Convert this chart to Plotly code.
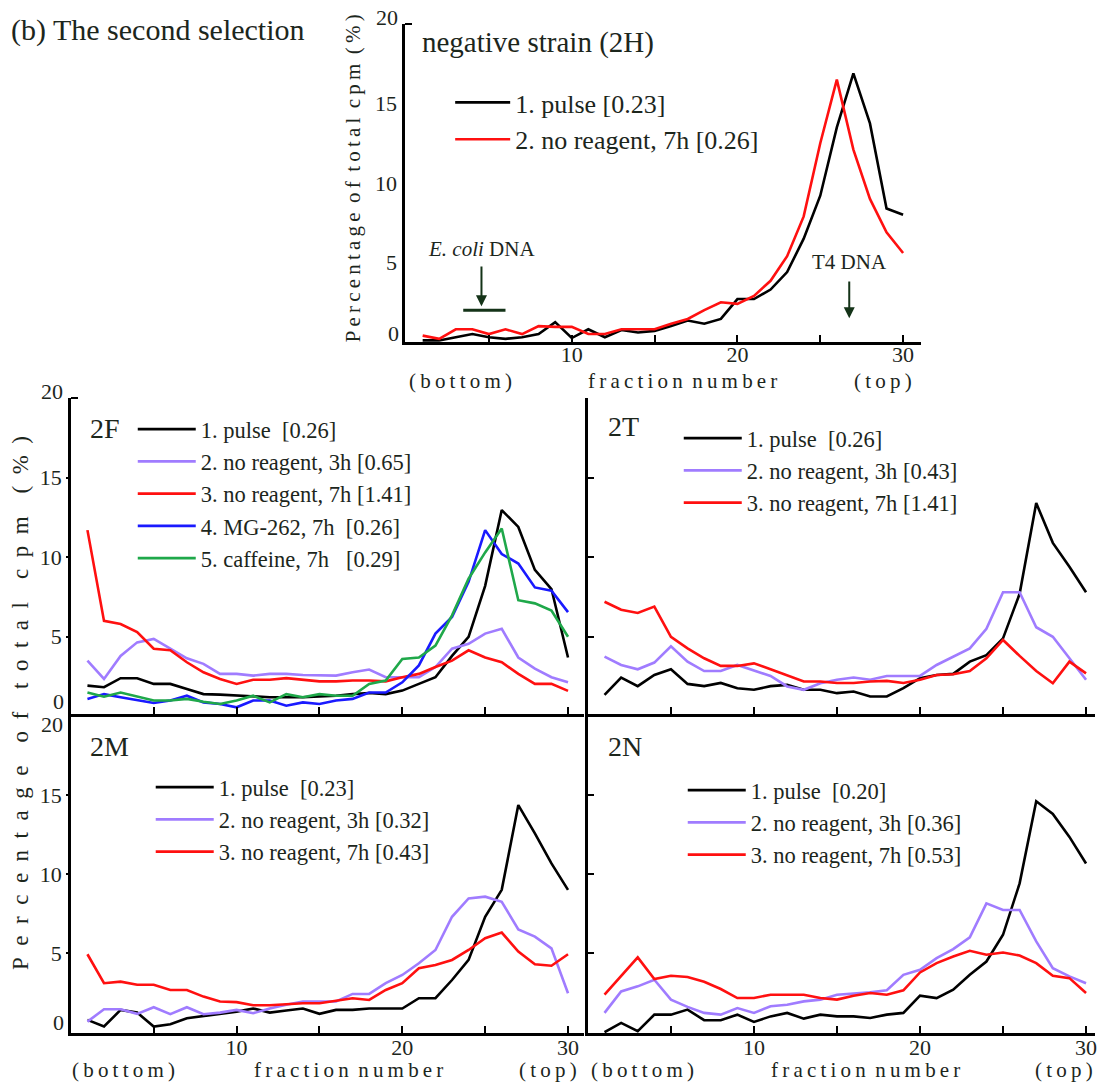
import plotly.graph_objects as go

# ---------------- data ----------------
fractions = list(range(1, 31))

# negative strain (2H)
h_pulse = [0.1, 0.1, 0.3, 0.5, 0.3, 0.2, 0.3, 0.5, 1.25, 0.25, 0.8, 0.3, 0.75, 0.6, 0.7,
           1.0, 1.35, 1.15, 1.45, 2.7, 2.7, 3.3, 4.4, 6.5, 9.2, 13.5, 16.9, 13.75, 8.4, 8.0]
h_noreag_7h = [0.4, 0.2, 0.8, 0.8, 0.5, 0.8, 0.5, 1.0, 0.95, 0.95, 0.5, 0.5, 0.8, 0.8, 0.8,
               1.15, 1.45, 2.0, 2.5, 2.4, 2.9, 3.85, 5.4, 7.9, 12.5, 16.5, 12.1, 9.0, 6.9, 5.6]

# 2F
f_pulse = [1.93, 1.83, 2.4, 2.4, 2.04, 2.04, 1.72, 1.4, 1.37, 1.3, 1.26, 1.2, 1.2, 1.2, 1.26,
           1.3, 1.4, 1.47, 1.4, 1.62, 2.04, 2.46, 3.8, 5.0, 8.2, 12.96, 11.9, 9.2, 8.0, 3.7]
f_noreag_3h = [3.5, 2.35, 3.8, 4.65, 4.87, 4.25, 3.65, 3.3, 2.67, 2.67, 2.56, 2.67, 2.67, 2.6, 2.56,
               2.56, 2.77, 2.94, 2.46, 2.46, 2.46, 3.1, 4.25, 4.56, 5.2, 5.5, 3.7, 3.0, 2.46, 2.14]
f_noreag_7h = [11.7, 6.0, 5.8, 5.3, 4.25, 4.15, 3.4, 2.77, 2.35, 2.04, 2.3, 2.3, 2.4, 2.3, 2.2,
               2.2, 2.25, 2.25, 2.2, 2.46, 2.67, 3.1, 3.5, 4.15, 3.7, 3.4, 2.67, 2.04, 2.04, 1.6]
f_mg262 = [1.1, 1.4, 1.2, 1.0, 0.84, 1.0, 1.3, 0.88, 0.78, 0.57, 1.0, 1.0, 0.67, 0.88, 0.78,
           1.0, 1.1, 1.5, 1.5, 2.14, 3.2, 5.2, 6.25, 8.45, 11.7, 10.2, 9.6, 8.1, 7.9, 6.55]
f_caffeine = [1.5, 1.24, 1.5, 1.24, 1.0, 1.0, 1.1, 0.92, 0.78, 1.0, 1.3, 0.88, 1.4, 1.2, 1.4,
              1.3, 1.3, 2.04, 2.25, 3.6, 3.7, 4.45, 6.35, 8.65, 10.3, 11.8, 7.3, 7.1, 6.65, 5.0]

# 2T
t_pulse = [1.35, 2.44, 1.9, 2.6, 2.96, 2.04, 1.9, 2.1, 1.77, 1.67, 1.9, 1.98, 1.67, 1.67, 1.46,
           1.56, 1.25, 1.25, 1.77, 2.4, 2.6, 2.67, 3.44, 3.85, 4.9, 7.7, 13.4, 10.9, 9.4, 7.8]
t_noreag_3h = [3.75, 3.23, 2.96, 3.38, 4.4, 3.44, 2.85, 2.85, 3.23, 2.9, 2.54, 1.88, 1.67, 2.08, 2.3,
               2.44, 2.3, 2.54, 2.54, 2.54, 3.23, 3.75, 4.27, 5.5, 7.8, 7.8, 5.6, 5.0, 3.65, 2.3]
t_noreag_7h = [7.2, 6.7, 6.5, 6.9, 5.0, 4.27, 3.65, 3.17, 3.17, 3.33, 2.96, 2.6, 2.19, 2.19, 2.1,
               2.1, 2.19, 2.23, 2.1, 2.3, 2.6, 2.65, 2.85, 3.65, 4.8, 3.8, 2.85, 2.08, 3.44, 2.7]

# 2M
m_pulse = [0.78, 0.36, 1.41, 1.24, 0.36, 0.5, 0.88, 1.03, 1.16, 1.3, 1.5, 1.24, 1.37, 1.5, 1.16,
           1.41, 1.41, 1.5, 1.5, 1.5, 2.15, 2.15, 3.3, 4.57, 7.3, 9.0, 14.36, 12.57, 10.67, 9.0]
m_noreag_3h = [0.67, 1.45, 1.45, 1.16, 1.58, 1.14, 1.58, 1.14, 1.24, 1.41, 1.2, 1.5, 1.73, 1.94, 1.94,
               1.94, 2.42, 2.42, 3.1, 3.62, 4.36, 5.2, 7.3, 8.46, 8.57, 8.25, 6.5, 6.04, 5.3, 2.46]
m_noreag_7h = [4.93, 3.1, 3.2, 3.0, 3.0, 2.67, 2.67, 2.25, 1.94, 1.9, 1.7, 1.7, 1.77, 1.83, 1.83,
               2.0, 2.15, 2.04, 2.67, 3.1, 4.04, 4.25, 4.57, 5.2, 5.94, 6.3, 5.1, 4.3, 4.2, 4.93]

# 2N
n_pulse = [0.0, 0.59, 0.06, 1.11, 1.11, 1.43, 0.76, 0.76, 1.11, 0.65, 1.0, 1.22, 0.86, 1.11, 1.0,
           1.0, 0.9, 1.11, 1.22, 2.31, 2.16, 2.69, 3.63, 4.47, 6.16, 9.41, 14.6, 13.8, 12.35, 10.67]
n_noreag_3h = [1.22, 2.58, 2.9, 3.32, 2.06, 1.6, 1.22, 1.11, 1.53, 1.22, 1.64, 1.74, 1.95, 2.06, 2.37,
               2.44, 2.52, 2.65, 3.63, 3.95, 4.68, 5.25, 6.0, 8.15, 7.73, 7.73, 5.74, 4.05, 3.53, 3.1]
n_noreag_7h = [2.37, 3.57, 4.73, 3.36, 3.57, 3.49, 3.19, 2.73, 2.16, 2.16, 2.37, 2.37, 2.37, 2.16, 2.06,
               2.31, 2.48, 2.37, 2.65, 3.78, 4.37, 4.79, 5.15, 4.9, 5.04, 4.85, 4.37, 3.57, 3.42, 2.48]

# legend labels
h_names = ["1. pulse [0.23]", "2. no reagent, 7h [0.26]"]
f_names = ["1. pulse  [0.26]", "2. no reagent, 3h [0.65]", "3. no reagent, 7h [1.41]",
           "4. MG-262, 7h  [0.26]", "5. caffeine, 7h   [0.29]"]
t_names = ["1. pulse  [0.26]", "2. no reagent, 3h [0.43]", "3. no reagent, 7h [1.41]"]
m_names = ["1. pulse  [0.23]", "2. no reagent, 3h [0.32]", "3. no reagent, 7h [0.43]"]
n_names = ["1. pulse  [0.20]", "2. no reagent, 3h [0.36]", "3. no reagent, 7h [0.53]"]

# marker positions (fraction number, % level)
ecoli_band = [3.45, 6.0]
ecoli_band_level = 2.0
ecoli_arrow = dict(x=4.55, tip=2.25, tail=4.85)
t4_arrow = dict(x=26.75, tip=1.5, tail=3.9)

x_tickvals = [5, 10, 15, 20, 25, 30]
x_ticktext = ["", "10", "", "20", "", "30"]

# ---------------- style ----------------
W, H = 1097, 1082
SERIF = "Liberation Serif"
TXT = "#1c261c"
ARROWC = "#143318"
BLACK = "#000000"
PURPLE = "#a07cff"
RED = "#ff1010"
BLUE = "#1a1aff"
GREEN = "#1fa84a"


def px(xp):
    return xp / W


def py(yp):
    return 1 - yp / H


fig = go.Figure()


def add(xa, ya, ys, names, colors, leg):
    for y, n, c in zip(ys, names, colors):
        fig.add_trace(go.Scatter(x=fractions, y=y, mode="lines", name=n,
                                 line=dict(color=c, width=2.6),
                                 xaxis=xa, yaxis=ya, legend=leg, hoverinfo="skip"))


add("x", "y", [h_pulse, h_noreag_7h], h_names, [BLACK, RED], "legend")
add("x2", "y2", [f_pulse, f_noreag_3h, f_noreag_7h, f_mg262, f_caffeine], f_names,
    [BLACK, PURPLE, RED, BLUE, GREEN], "legend2")
add("x3", "y3", [t_pulse, t_noreag_3h, t_noreag_7h], t_names, [BLACK, PURPLE, RED], "legend3")
add("x4", "y4", [m_pulse, m_noreag_3h, m_noreag_7h], m_names, [BLACK, PURPLE, RED], "legend4")
add("x5", "y5", [n_pulse, n_noreag_3h, n_noreag_7h], n_names, [BLACK, PURPLE, RED], "legend5")

tickfont = dict(family=SERIF, size=22, color=TXT)


def xaxis(domain, rng, labels, anchor, standoff):
    return dict(domain=domain, range=rng, anchor=anchor, showline=True, linecolor=BLACK,
                linewidth=2.5, showgrid=False, zeroline=False, ticks="inside", ticklen=7,
                tickwidth=2, tickcolor=BLACK, tickmode="array", tickvals=x_tickvals,
                ticktext=x_ticktext, showticklabels=labels, tickfont=tickfont,
                ticklabelstandoff=standoff, ticklabeloverflow="allow")


def yaxis(domain, rng, anchor, labels, ticks, ticklen=6, standoff=0):
    d = dict(domain=domain, range=rng, anchor=anchor, showline=True, linecolor=BLACK,
             linewidth=2.5, showgrid=False, zeroline=False, tickmode="array",
             tickvals=[5, 10, 15], ticktext=["5", "10", "15"], showticklabels=labels,
             ticks=ticks, ticklen=ticklen, tickwidth=2, tickcolor=BLACK, tickfont=tickfont,
             ticklabelstandoff=standoff,
             minor=dict(tickmode="array", tickvals=[20], ticks="inside", ticklen=7,
                        tickwidth=2, tickcolor=BLACK))
    if not labels:
        d["tickvals"] = [5, 10, 15, 20]
    return d


top_x = [px(406), px(923)]
top_y = [py(342), py(24)]
left_x = [px(71), px(585)]
right_x = [px(589), 1.0]
row1_y = [py(714), py(398)]
row2_y = [py(1033), py(714)]

legend_common = dict(xanchor="left", yanchor="top", bgcolor="rgba(0,0,0,0)",
                     borderwidth=0, tracegroupgap=0, traceorder="normal")
lfont = dict(family=SERIF, size=22.5, color=TXT)

fig.update_layout(
    width=W, height=H, margin=dict(l=0, r=0, t=0, b=0),
    paper_bgcolor="white", plot_bgcolor="rgba(0,0,0,0)",
    showlegend=True,
    xaxis=xaxis(top_x, [-0.05, 31.1], True, "y", -9),
    yaxis=yaxis(top_y, [0, 20], "x", True, "outside", ticklen=1),
    xaxis2=xaxis(left_x, [0, 30.96], False, "y2", 0),
    yaxis2=yaxis(row1_y, [0.15, 20], "x2", True, "outside", ticklen=2),
    xaxis3=xaxis(right_x, [0, 30.54], False, "y3", 0),
    yaxis3=yaxis(row1_y, [0.15, 20], "x3", False, "inside"),
    xaxis4=xaxis(left_x, [0, 30.96], True, "y4", -7),
    yaxis4=yaxis(row2_y, [-0.05, 20.12], "x4", True, "outside", ticklen=2),
    xaxis5=xaxis(right_x, [0, 30.54], True, "y5", -7),
    yaxis5=yaxis(row2_y, [-0.05, 20.12], "x5", False, "inside"),
    legend=dict(x=px(451), y=py(79), itemwidth=55,
                font=dict(family=SERIF, size=26, color=TXT), **legend_common),
    legend2=dict(x=px(133), y=py(408), itemwidth=58, font=lfont, **legend_common),
    legend3=dict(x=px(680), y=py(417), itemwidth=58, font=lfont, **legend_common),
    legend4=dict(x=px(151), y=py(766), itemwidth=58, font=lfont, **legend_common),
    legend5=dict(x=px(684), y=py(769), itemwidth=58, font=lfont, **legend_common),
)

ann = []


def text(t, x, y, size, xanchor="left", angle=0):
    ann.append(dict(text=t, x=px(x), y=py(y), xref="paper", yref="paper", xanchor=xanchor,
                    yanchor="middle", showarrow=False, textangle=angle,
                    font=dict(family=SERIF, size=size, color=TXT)))


TH = "\u2009"
EN = "\u2002"
EM = "\u2003"


def spaced(s, gap, wgap):
    words = s.split(" ")
    return wgap.join(gap.join(list(w)) for w in words)


text("(b) The second selection", 9, 30, 30)
text("negative strain (2H)", 421, 43, 29)
text(spaced("Percentage of total cpm (%)", TH, " " + TH), 354, 178, 21, "center", -90)
text(spaced("Percentage of total cpm (%)", EN, EM), 20, 703, 23, "center", -90)

for (cb, cf, ct, yy) in [(461, 684, 885, 381), (124, 349, 549, 1070), (644, 867, 1066, 1070)]:
    text(spaced("(bottom)", TH, TH), cb, yy, 21, "center")
    text(spaced("fraction number", TH, " " + TH), cf, yy, 21, "center")
    text(spaced("(top)", TH, TH), ct, yy, 21, "center")

text("2F", 88, 428, 28)
text("2T", 607, 426, 28)
text("2M", 88, 746, 28)
text("2N", 607, 746, 28)

# y tick labels for 0 and 20 (offset like the original)
for (xr, y0p, y20p) in [(402, 333, 18), (66, 701, 392), (66, 1022, 724)]:
    text("0", xr, y0p, 22, "right")
    text("20", xr - 1, y20p, 22, "right")

# DNA markers in the top panel
ann.append(dict(text="<i>E. coli</i> DNA", x=ecoli_arrow["x"], y=ecoli_arrow["tail"], xref="x", yref="y",
                yanchor="bottom", xanchor="center", showarrow=False, yshift=2,
                font=dict(family=SERIF, size=21, color=TXT)))
ann.append(dict(text="", x=ecoli_arrow["x"], y=ecoli_arrow["tip"], ax=ecoli_arrow["x"],
                ay=ecoli_arrow["tail"], xref="x", yref="y", axref="x", ayref="y",
                showarrow=True, arrowhead=2, arrowsize=1.1, arrowwidth=2, arrowcolor=ARROWC))
ann.append(dict(text="T4 DNA", x=t4_arrow["x"], y=t4_arrow["tail"], xref="x", yref="y",
                yanchor="bottom", xanchor="center", showarrow=False, yshift=4,
                font=dict(family=SERIF, size=21, color=TXT)))
ann.append(dict(text="", x=t4_arrow["x"], y=t4_arrow["tip"], ax=t4_arrow["x"],
                ay=t4_arrow["tail"], xref="x", yref="y", axref="x", ayref="y",
                showarrow=True, arrowhead=2, arrowsize=1.1, arrowwidth=2, arrowcolor=ARROWC))

fig.update_layout(annotations=ann)
fig.add_shape(type="line", xref="x", yref="y", x0=ecoli_band[0], x1=ecoli_band[1],
              y0=ecoli_band_level, y1=ecoli_band_level, line=dict(color=ARROWC, width=3))

fig.write_html("out.html", config={"displayModeBar": False},
               post_script="document.body.style.margin='0px';")
